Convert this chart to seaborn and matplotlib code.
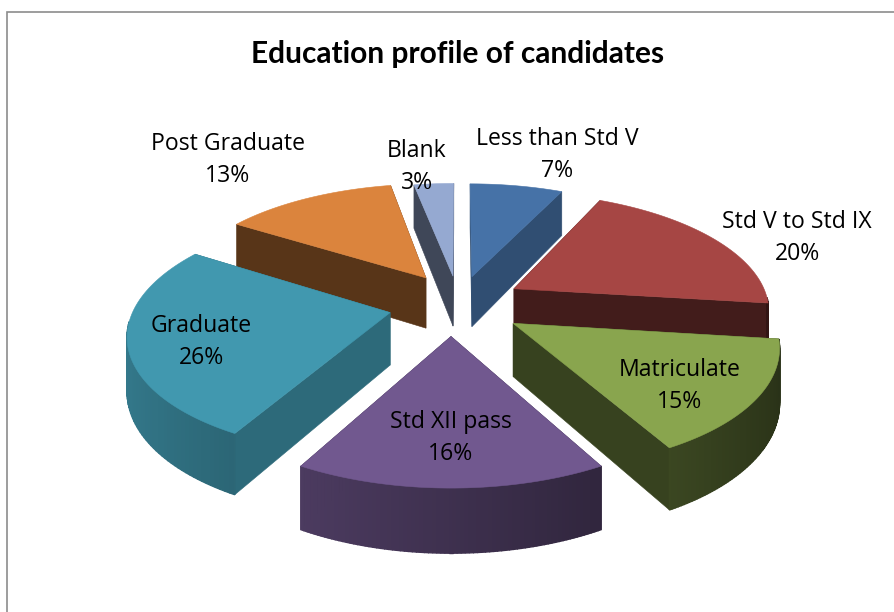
import numpy as np
import matplotlib
matplotlib.use("Agg")
import matplotlib.pyplot as plt
from matplotlib.patches import Polygon, Rectangle
import seaborn as sns

categories = ["Less than Std V", "Std V to Std IX", "Matriculate", "Std XII pass",
              "Graduate", "Post Graduate", "Blank"]
shares = [7, 20, 15, 16, 26, 13, 3]
top_colors = ["#4672a7", "#a64644", "#89a54e", "#71588f", "#4198af", "#db843d", "#95a9d1"]
cut_shades = [0.68, 0.40, 0.40, 0.5, 0.70, 0.40, 0.42]
slice_nudge = [(3, 0), (2, -2), (2, 1), (-4, 0), (0, 0), (7, -3), (4, 0)]
label_xy = [(557, 155), (797, 238), (680, 386), (451, 438), (201, 342), (228, 160), (417, 167)]
draw_order = [6, 0, 5, 1, 4, 2, 3]

sns.set_theme(style="white")
plt.rcParams["font.family"] = ["Open Sans", "DejaVu Sans"]

CX, CY, RX, RY, K, DEPTH = 455, 305, 255, 116, 0.16, 52

def project(x, y, z, nudge):
    x, y = np.asarray(x, float), np.asarray(y, float)
    s = 1.0 / (1.0 + K * y)
    return np.column_stack([CX + nudge[0] + RX * x * s, CY + nudge[1] - RY * y * s + z * DEPTH * s])

fig = plt.figure(figsize=(8.94, 6.12), dpi=100)
ax = fig.add_axes([0, 0, 1, 1])
wedges, _ = ax.pie(shares, explode=[0.26] * len(shares), startangle=90,
                   counterclock=False, radius=1.0, colors=sns.color_palette(top_colors))
geom = [(w.center, w.theta1, w.theta2, w.r) for w in wedges]
for w in wedges:
    w.remove()
ax.set_aspect("auto")
ax.set_xlim(0, 894)
ax.set_ylim(612, 0)
ax.axis("off")

ax.add_patch(Rectangle((7, 12), 1000, 1000, fc="white", ec="#8c8c8c", lw=1.2, zorder=0))

def shade(color, f):
    return tuple(np.array(matplotlib.colors.to_rgb(color)) * f)

z = 1
def add(pts, color, lw=0.4):
    global z
    ax.add_patch(Polygon(pts, closed=True, fc=color, ec=color, lw=lw, zorder=z))
    z += 1

for i in draw_order:
    (c0, c1), t1, t2, r = geom[i]
    col, nd = top_colors[i], slice_nudge[i]
    th = np.radians(np.linspace(t1, t2, 80))
    ax_x, ax_y = c0 + r * np.cos(th), c1 + r * np.sin(th)
    for ex, ey in [(ax_x[0], ax_y[0]), (ax_x[-1], ax_y[-1])]:
        quad = np.vstack([project([c0, ex], [c1, ey], 0, nd), project([ex, c0], [ey, c1], 1, nd)])
        add(quad, shade(col, cut_shades[i]))
    for j in range(len(th) - 1):
        if np.sin((th[j] + th[j + 1]) / 2) < -0.08:
            xs, ys = ax_x[j:j + 2], ax_y[j:j + 2]
            quad = np.vstack([project(xs, ys, 0, nd), project(xs[::-1], ys[::-1], 1, nd)])
            add(quad, shade(col, 0.55 - 0.25 * np.cos((th[j] + th[j + 1]) / 2)), lw=1.0)
    add(np.vstack([project([c0], [c1], 0, nd), project(ax_x, ax_y, 0, nd)]), col)

fig.text(458 / 894, 1 - 54 / 612, "Education profile of candidates", ha="center", va="center",
         fontsize=21.5, fontweight="bold", color="black", family=["Lato", "DejaVu Sans"])
for name, share, (lx, ly) in zip(categories, shares, label_xy):
    ax.text(lx, ly, f"{name}\n{share}%", ha="center", va="center", fontsize=16.6,
            color="black", linespacing=1.43, zorder=z + 1)

fig.savefig("out.png", dpi=100)
